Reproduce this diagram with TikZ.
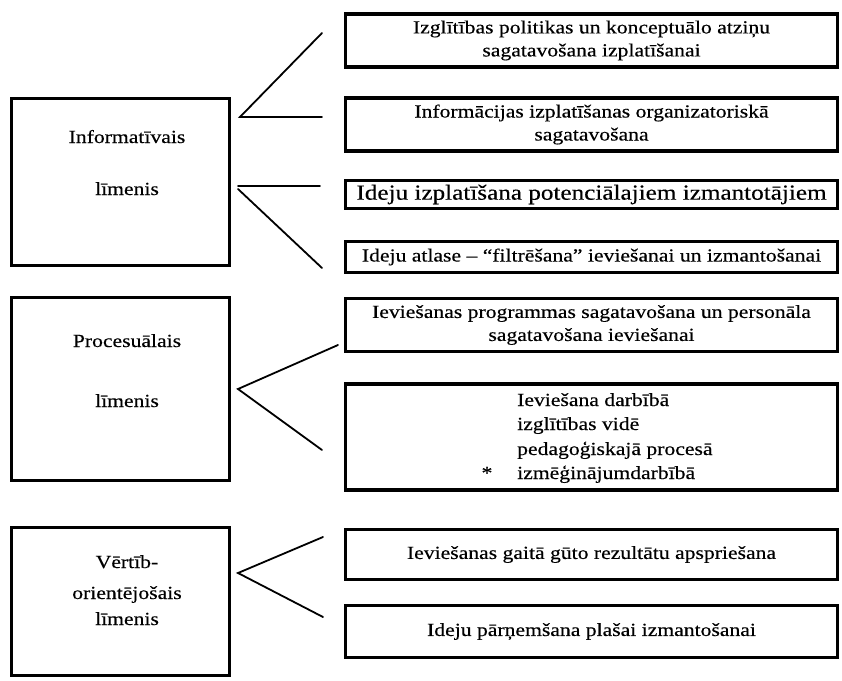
\documentclass[tikz,border=0pt]{standalone}
\usepackage{fontspec}
\setmainfont[FakeStretch=1.17,FakeBold=0.35]{Liberation Serif}
\begin{document}
\begin{tikzpicture}[x=1pt,y=-1pt,
  lvlbox/.style={draw, line width=3.8pt, inner sep=0pt, minimum width=218pt},
  itembox/.style={draw, line width=3.3pt, inner sep=0pt, minimum width=492pt,
    align=center, font=\fontsize{18.5}{23}\selectfont},
  txt/.style={inner sep=0pt, font=\fontsize{18.5}{23}\selectfont},
  link/.style={line width=1.8pt, line cap=round}]
\useasboundingbox (0,0) rectangle (842,680);

% level boxes on the left
\node[lvlbox, minimum height=167pt] (l1) at (120.5,182) {};
\node[lvlbox, minimum height=183pt] (l2) at (120.5,389) {};
\node[lvlbox, minimum height=148pt] (l3) at (120.5,601.5) {};

\node[txt, anchor=base] (l1a) at (127,143) {Informatīvais};
\node[txt, anchor=base] (l1b) at (127,195) {līmenis};
\node[txt, anchor=base] (l2a) at (127,347) {Procesuālais};
\node[txt, anchor=base] (l2b) at (127,407) {līmenis};
\node[txt, anchor=base] (l3a) at (127,568) {Vērtīb-};
\node[txt, anchor=base] (l3b) at (127,599) {orientējošais};
\node[txt, anchor=base] (l3c) at (127,625) {līmenis};

% item boxes on the right
\node[itembox, minimum height=53pt] (r1) at (591.5,40.5)
  {Izglītības politikas un konceptuālo atziņu\\sagatavošana izplatīšanai};
\node[itembox, minimum height=53pt] (r2) at (591.5,124.5)
  {Informācijas izplatīšanas organizatoriskā\\sagatavošana};
\node[itembox, minimum height=28pt, font=\fontsize{21.5}{23}\selectfont] (r3) at (591.5,194.5)
  {Ideju izplatīšana potenciālajiem izmantotājiem};
\node[itembox, minimum height=31pt] (r4) at (591.5,257)
  {Ideju atlase – “filtrēšana” ieviešanai un izmantošanai};
\node[itembox, minimum height=53pt] (r5) at (591.5,325)
  {Ieviešanas programmas sagatavošana un personāla\\sagatavošana ieviešanai};
\node[itembox, minimum height=106pt] (r6) at (591.5,437) {};
\node[txt, anchor=base west] (r6a) at (517,406) {Ieviešana darbībā};
\node[txt, anchor=base west] (r6b) at (517,430) {izglītības vidē};
\node[txt, anchor=base west] (r6c) at (517,455) {pedagoģiskajā procesā};
\node[txt, anchor=base west] (r6d) at (517,479) {izmēģinājumdarbībā};
\node[txt, anchor=base] (r6s) at (487,479) {*};
\node[itembox, minimum height=50pt] (r7) at (591.5,554.5)
  {Ieviešanas gaitā gūto rezultātu apspriešana};
\node[itembox, minimum height=52pt] (r8) at (591.5,631.5)
  {Ideju pārņemšana plašai izmantošanai};

% connector end points
\coordinate (g1top) at (322,33);
\coordinate (g1apex) at (240,117);
\coordinate (g1end) at (322,117);
\coordinate (g2start) at (238,186);
\coordinate (g2end) at (320,186);
\coordinate (g2apex) at (238,189);
\coordinate (g2low) at (322,268);
\coordinate (g3apex) at (238,389);
\coordinate (g3up) at (338,345);
\coordinate (g3low) at (322,450);
\coordinate (g4apex) at (238,573);
\coordinate (g4up) at (323,537);
\coordinate (g4low) at (323,617);

% connectors
\draw[link] (g1top) -- (g1apex) -- (g1end);
\draw[link] (g2start) -- (g2end);
\draw[link] (g2apex) -- (g2low);
\draw[link] (g3up) -- (g3apex) -- (g3low);
\draw[link] (g4up) -- (g4apex) -- (g4low);
\end{tikzpicture}
\end{document}
